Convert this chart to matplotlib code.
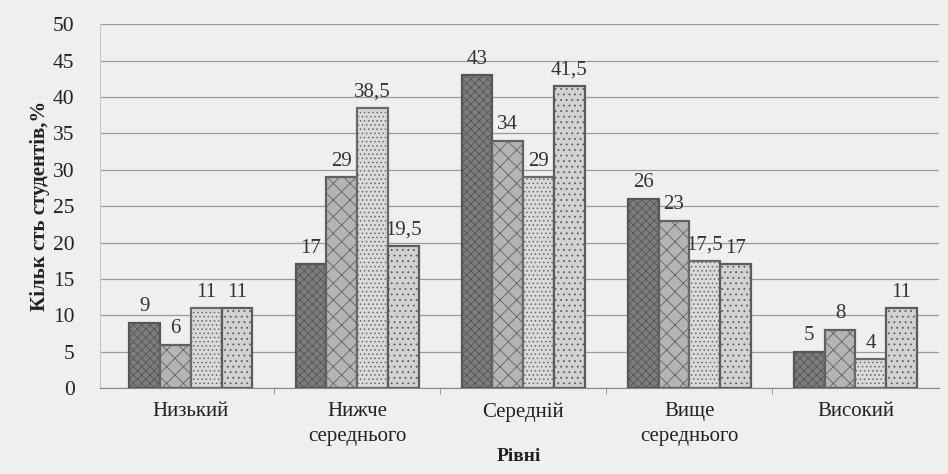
import numpy as np
import matplotlib
matplotlib.use("Agg")
import matplotlib.pyplot as plt

categories = ["Низький", "Нижче\nсереднього", "Середній", "Вище\nсереднього", "Високий"]
series_1 = [9, 17, 43, 26, 5]
series_2 = [6, 29, 34, 23, 8]
series_3 = [11, 38.5, 29, 17.5, 4]
series_4 = [11, 19.5, 41.5, 17, 11]
labels_fmt = lambda v: (f"{v:g}").replace(".", ",")

plt.rcParams["font.family"] = ["Liberation Serif", "DejaVu Serif"]
plt.rcParams["hatch.linewidth"] = 0.6

bg = "#efefed"
fig = plt.figure(figsize=(9.48, 4.74), dpi=100, facecolor=bg)
ax = fig.add_axes([0.105, 0.181, 0.885, 0.768], facecolor=bg)

styles = [
    dict(color="#7d7d7d", hatch="xxxx", edge="#555555"),
    dict(color="#b4b4b4", hatch="xx", edge="#606060"),
    dict(color="#dadada", hatch="....", edge="#6a6a6a"),
    dict(color="#d2d2d2", hatch="...", edge="#5c5c5c"),
]

x = np.arange(len(categories))
w = 0.185
for i, (vals, st) in enumerate(zip([series_1, series_2, series_3, series_4], styles)):
    pos = x + (i - 1.5) * w
    bars = ax.bar(pos, vals, w, color=st["color"], edgecolor=st["edge"],
                  hatch=st["hatch"], linewidth=1.6, zorder=3)
    for b, v in zip(bars, vals):
        ax.text(b.get_x() + b.get_width() / 2, v + 0.9, labels_fmt(v),
                ha="center", va="bottom", fontsize=15, color="#333333", zorder=4)

ax.set_ylim(0, 50)
ax.set_yticks(range(0, 51, 5))
ax.set_xlim(-0.55, 4.5)
ax.set_xticks(x)
ax.set_xticklabels(categories, fontsize=15, color="#222222", linespacing=1.4)
ax.set_xticks(np.arange(0.5, 4.5, 1), minor=True)
ax.tick_params(axis="x", which="major", length=0, pad=10)
ax.tick_params(axis="x", which="minor", length=4, color="#888888")
ax.tick_params(axis="y", length=0, labelsize=15.5, labelcolor="#222222", pad=18)

ax.grid(axis="y", color="#9a9a9a", linewidth=0.9, zorder=0)
for s in ["top", "right"]:
    ax.spines[s].set_visible(False)
ax.spines["left"].set_color("#c8c8c8")
ax.spines["left"].set_linewidth(0.8)
ax.spines["bottom"].set_color("#888888")

ax.set_ylabel("Кільк сть студентів,%", fontsize=15, fontweight="bold", color="#222222", labelpad=2)
ax.set_xlabel("Рівні", fontsize=14, fontweight="bold", color="#222222", labelpad=2)

fig.savefig("out.png", dpi=100, facecolor=bg)
